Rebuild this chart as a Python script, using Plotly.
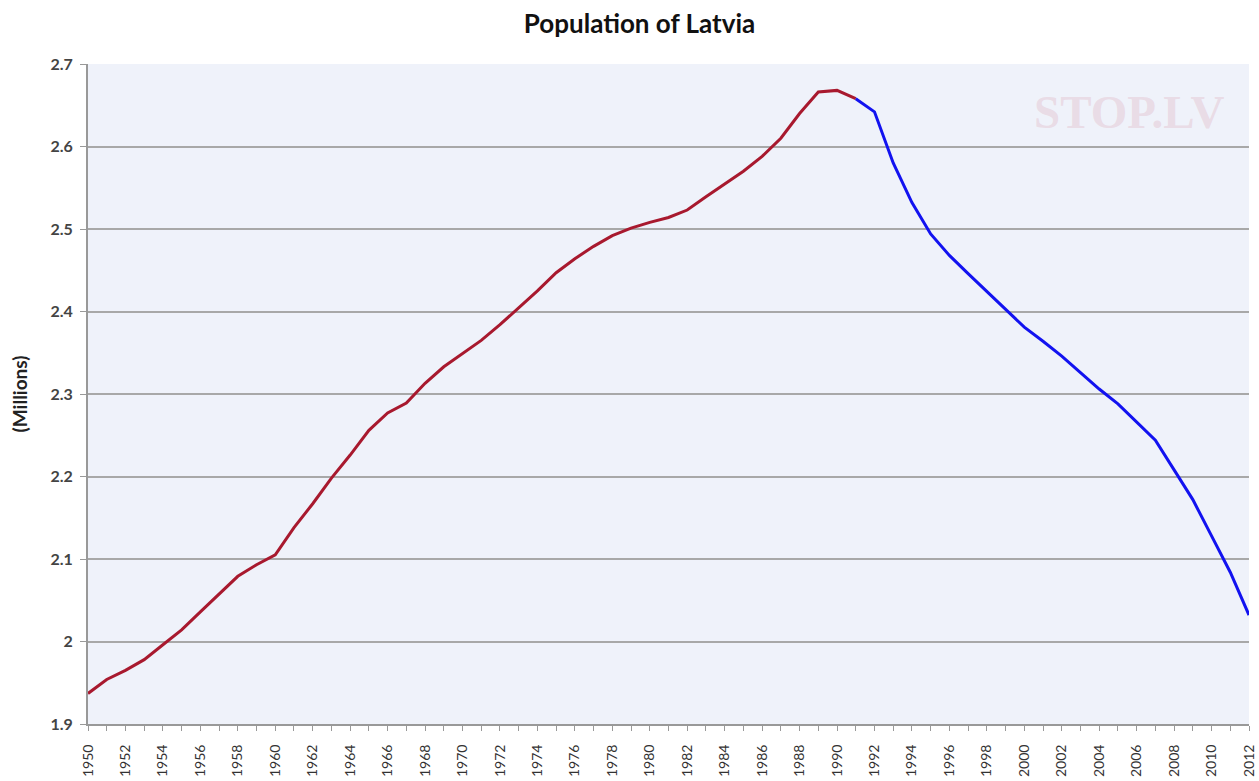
import plotly.graph_objects as go

years_soviet = list(range(1950, 1992))
pop_soviet = [1.937, 1.954, 1.965, 1.978, 1.996, 2.014, 2.036, 2.058, 2.079, 2.093,
              2.105, 2.138, 2.167, 2.198, 2.226, 2.256, 2.277, 2.289, 2.313, 2.333,
              2.349, 2.365, 2.384, 2.404, 2.425, 2.447, 2.464, 2.479, 2.492, 2.501,
              2.508, 2.514, 2.523, 2.539, 2.555, 2.570, 2.588, 2.610, 2.640, 2.666,
              2.668, 2.658]

years_indep = list(range(1991, 2013))
pop_indep = [2.658, 2.642, 2.580, 2.532, 2.494, 2.468, 2.446, 2.424, 2.402, 2.381,
             2.364, 2.346, 2.326, 2.306, 2.288, 2.266, 2.244, 2.208, 2.172, 2.128,
             2.084, 2.032]

y_ticks = [1.9, 2.0, 2.1, 2.2, 2.3, 2.4, 2.5, 2.6, 2.7]
y_tick_labels = ["1.9", "2", "2.1", "2.2", "2.3", "2.4", "2.5", "2.6", "2.7"]

fig = go.Figure()
fig.add_trace(go.Scatter(x=years_soviet, y=pop_soviet, mode="lines",
                         line=dict(color="#A8192E", width=3), showlegend=False))
fig.add_trace(go.Scatter(x=years_indep, y=pop_indep, mode="lines",
                         line=dict(color="#1212F0", width=3), showlegend=False))

fig.update_layout(
    width=1259, height=781,
    margin=dict(l=88, r=10, t=64, b=57, autoexpand=False),
    paper_bgcolor="white",
    plot_bgcolor="#EFF2FA",
    title=dict(text="<b>Population of Latvia</b>", x=0.508, xanchor="center",
               y=0.969, yanchor="middle",
               font=dict(family="Lato", size=26, color="#111")),
    font=dict(family="Lato", color="#333"),
)

fig.update_xaxes(
    range=[1950, 2012], tickmode="linear", tick0=1950, dtick=2,
    tickangle=-90, ticks="outside", ticklen=5, tickcolor="#999",
    ticklabelstandoff=8, ticklabeloverflow="allow",
    tickfont=dict(family="Lato", size=14, color="#333"),
    minor=dict(dtick=1, ticks="outside", ticklen=5, tickcolor="#999"),
    showgrid=False, showline=True, linecolor="#999", linewidth=2, zeroline=False,
)
fig.update_yaxes(
    range=[1.9, 2.7], tickvals=y_ticks, ticktext=y_tick_labels,
    ticks="outside", ticklen=6, tickcolor="#999", ticklabelstandoff=4,
    tickfont=dict(family="Lato", size=16, color="#444", weight="bold"),
    showgrid=True, gridcolor="#A8A8A8", gridwidth=2,
    showline=True, linecolor="#999", linewidth=2, zeroline=False,
    title=dict(text="<b>(Millions)</b>", font=dict(family="Lato", size=19, color="#222"),
               standoff=18),
)

fig.add_annotation(text="<b>STOP.LV</b>", xref="paper", yref="paper",
                   x=0.897, y=0.928, xanchor="center", yanchor="middle", showarrow=False,
                   font=dict(family="Liberation Serif", size=47, color="rgba(225,185,198,0.4)"))

fig.write_html("out.html", config={"displayModeBar": False},
               post_script="document.body.style.margin='0';document.body.style.overflow='hidden';")
